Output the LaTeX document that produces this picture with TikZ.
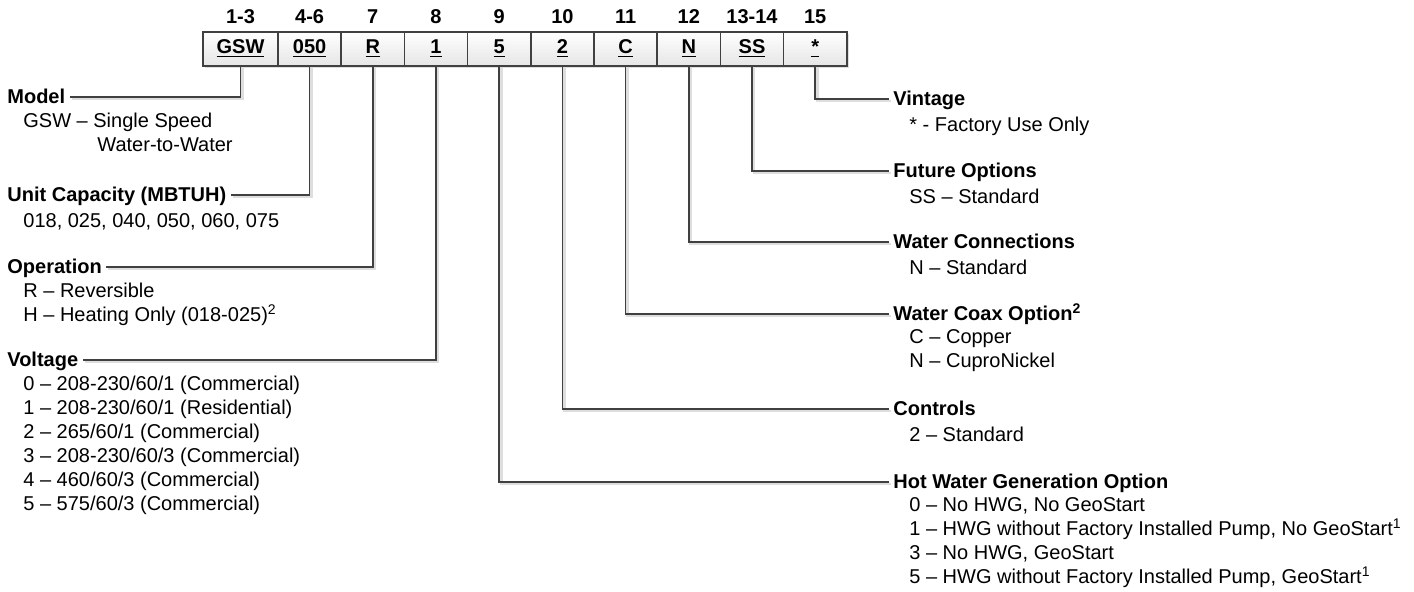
\documentclass[tikz,border=0pt]{standalone}
\usepackage{fontspec}
\setmainfont{Liberation Sans}
\usepackage{tikz}
\usetikzlibrary{positioning,shadows}
\definecolor{linegray}{RGB}{64,64,64}
\definecolor{shadegray}{RGB}{222,222,222}
\newcommand{\keyfont}{\fontsize{10}{12}\selectfont}

\begin{document}
\begin{tikzpicture}[
    x=0.5pt, y=-0.5pt,
    font=\keyfont,
    codebox/.style={rectangle, draw=linegray, line width=0.8pt, top color=white, bottom color=black!10,
        minimum width=31.6pt, minimum height=17pt, inner sep=0pt, outer sep=0pt, font=\keyfont\bfseries,
        drop shadow={shadow xshift=1.2pt, shadow yshift=-1.2pt, fill=shadegray, opacity=1}},
    hdr/.style={inner sep=0pt, text height=7pt, text depth=0pt, font=\keyfont\bfseries},
    ttl/.style={anchor=west, inner xsep=2pt, inner ysep=0pt, text height=7pt, text depth=0pt, font=\keyfont\bfseries},
    lst/.style={inner sep=0pt, align=left, execute at begin node=\strut},
    conn/.style={draw=linegray, line width=0.8pt,
        preaction={draw=shadegray, line width=1.4pt, transform canvas={xshift=1pt, yshift=-1pt}}}
]
    \useasboundingbox (0,0) rectangle (1414,592);

    % model code boxes
    \node[codebox, minimum width=37.5pt, anchor=north west] (bmod) at (203,32) {\underline{GSW}};
    \node[codebox, right=0pt of bmod] (bcap) {\underline{050}};
    \node[codebox, right=0pt of bcap] (bopr) {\underline{R}};
    \node[codebox, right=0pt of bopr] (bvlt) {\underline{1}};
    \node[codebox, right=0pt of bvlt] (bhwg) {\underline{5}};
    \node[codebox, right=0pt of bhwg] (bctl) {\underline{2}};
    \node[codebox, right=0pt of bctl] (bcox) {\underline{C}};
    \node[codebox, right=0pt of bcox] (bwcn) {\underline{N}};
    \node[codebox, right=0pt of bwcn] (bfut) {\underline{SS}};
    \node[codebox, right=0pt of bfut] (bvin) {\underline{*}};

    % digit positions
    \node[hdr, above=4pt of bmod] (hmod) {1-3};
    \node[hdr, above=4pt of bcap] (hcap) {4-6};
    \node[hdr, above=4pt of bopr] (hopr) {7};
    \node[hdr, above=4pt of bvlt] (hvlt) {8};
    \node[hdr, above=4pt of bhwg] (hhwg) {9};
    \node[hdr, above=4pt of bctl] (hctl) {10};
    \node[hdr, above=4pt of bcox] (hcox) {11};
    \node[hdr, above=4pt of bwcn] (hwcn) {12};
    \node[hdr, above=4pt of bfut] (hfut) {13-14};
    \node[hdr, above=4pt of bvin] (hvin) {15};

    % left column
    \node[ttl] (tmod) at (3,97) {Model};
    \node[lst, below right=4pt and 10pt of tmod.south west] (lmod) {GSW – Single Speed\\\phantom{GSW – }\hspace*{2pt}Water-to-Water};
    \node[ttl] (tcap) at (3,195) {Unit Capacity (MBTUH)};
    \node[lst, below right=4pt and 10pt of tcap.south west] (lcap) {018, 025, 040, 050, 060, 075};
    \node[ttl] (topr) at (3,267) {Operation};
    \node[lst, below right=4pt and 10pt of topr.south west] (lopr) {R – Reversible\\H – Heating Only (018-025)\textsuperscript{2}};
    \node[ttl] (tvlt) at (3,360) {Voltage};
    \node[lst, below right=4pt and 10pt of tvlt.south west] (lvlt) {0 – 208-230/60/1 (Commercial)\\1 – 208-230/60/1 (Residential)\\2 – 265/60/1 (Commercial)\\3 – 208-230/60/3 (Commercial)\\4 – 460/60/3 (Commercial)\\5 – 575/60/3 (Commercial)};

    % right column
    \node[ttl] (tvin) at (889,99) {Vintage};
    \node[lst, below right=4pt and 10pt of tvin.south west] (lvin) {* - Factory Use Only};
    \node[ttl] (tfut) at (889,171) {Future Options};
    \node[lst, below right=4pt and 10pt of tfut.south west] (lfut) {SS – Standard};
    \node[ttl] (twcn) at (889,242) {Water Connections};
    \node[lst, below right=4pt and 10pt of twcn.south west] (lwcn) {N – Standard};
    \node[ttl] (tcox) at (889,314) {Water Coax Option\textsuperscript{2}};
    \node[lst, below right=4pt and 10pt of tcox.south west] (lcox) {C – Copper\\N – CuproNickel};
    \node[ttl] (tctl) at (889,409) {Controls};
    \node[lst, below right=4pt and 10pt of tctl.south west] (lctl) {2 – Standard};
    \node[ttl] (thwg) at (889,482) {Hot Water Generation Option};
    \node[lst, below right=4pt and 10pt of thwg.south west] (lhwg) {0 – No HWG, No GeoStart\\1 – HWG without Factory Installed Pump, No GeoStart\textsuperscript{1}\\3 – No HWG, GeoStart\\5 – HWG without Factory Installed Pump, GeoStart\textsuperscript{1}};

    % leaders
    \draw[conn] (bmod.south) |- (tmod.east);
    \draw[conn] (bcap.south) |- (tcap.east);
    \draw[conn] (bopr.south) |- (topr.east);
    \draw[conn] (bvlt.south) |- (tvlt.east);
    \draw[conn] (bhwg.south) |- (thwg.west);
    \draw[conn] (bctl.south) |- (tctl.west);
    \draw[conn] (bcox.south) |- (tcox.west);
    \draw[conn] (bwcn.south) |- (twcn.west);
    \draw[conn] (bfut.south) |- (tfut.west);
    \draw[conn] (bvin.south) |- (tvin.west);
\end{tikzpicture}
\end{document}
